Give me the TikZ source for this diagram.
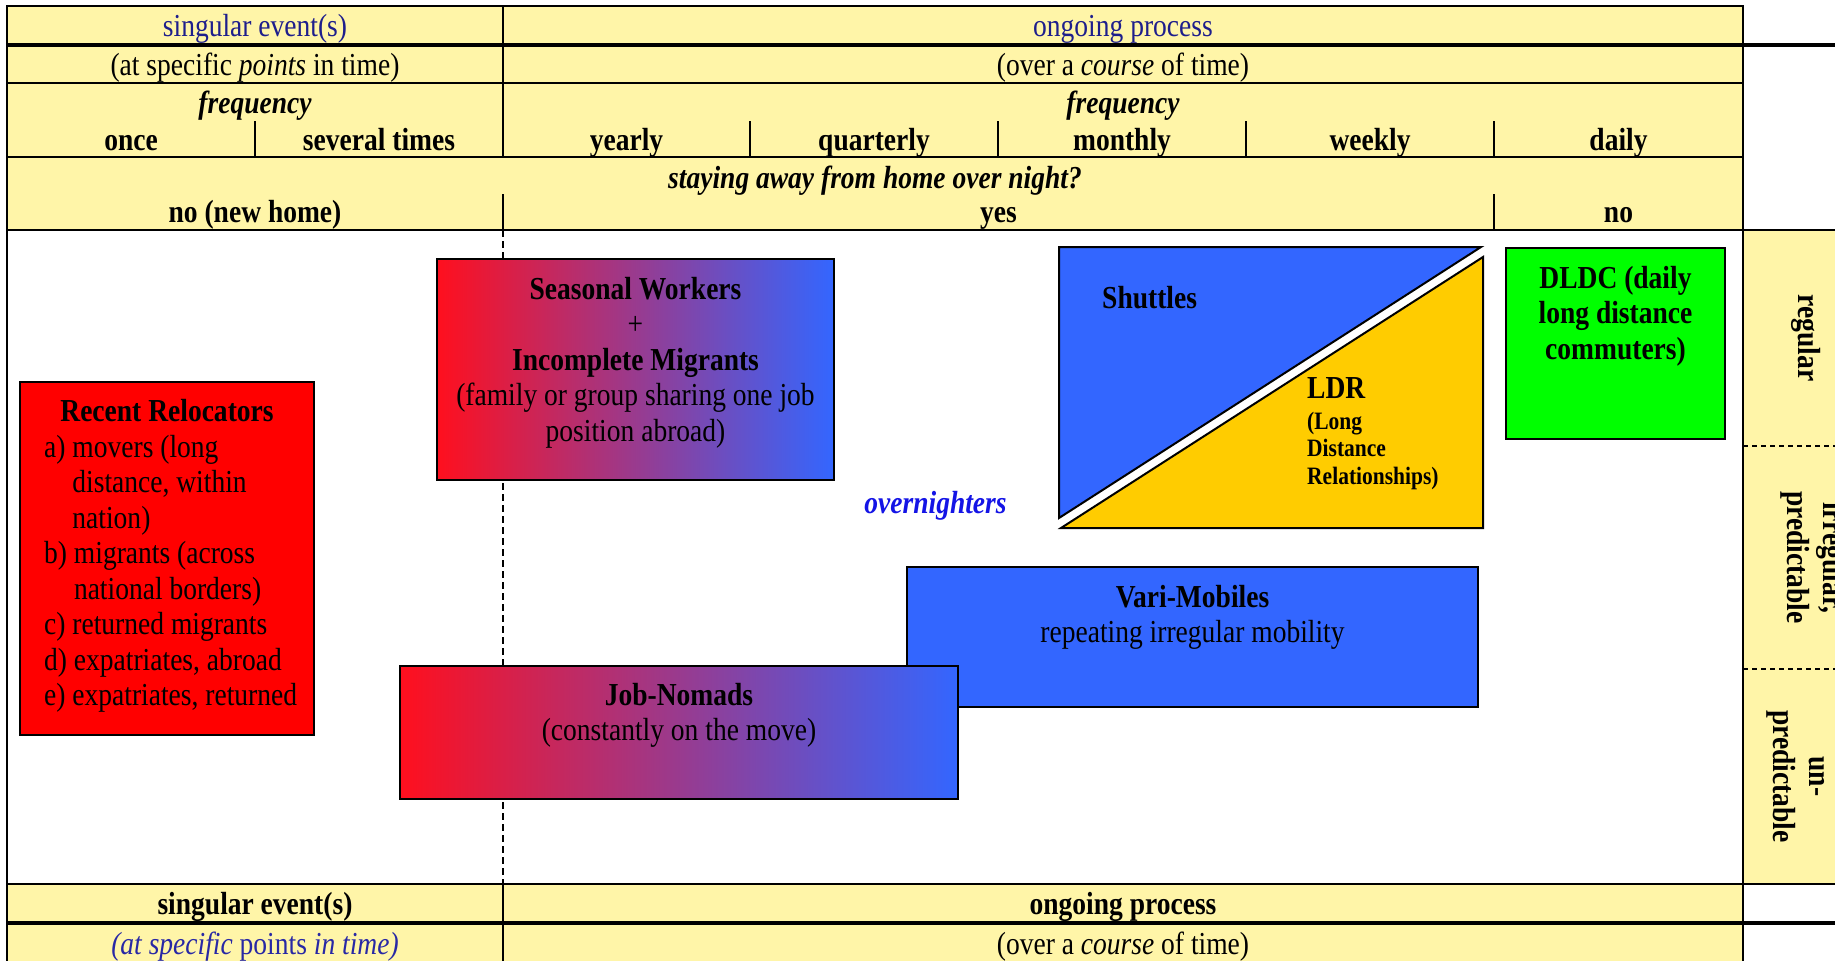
\documentclass[tikz,border=0pt]{standalone}
\usepackage{fontspec}
\setmainfont{Liberation Serif}[FakeStretch=0.86]
\usetikzlibrary{calc}
\definecolor{hdr}{RGB}{255,245,168}
\definecolor{navy}{RGB}{30,30,140}
\definecolor{botblue}{RGB}{40,40,165}
\definecolor{boxblue}{RGB}{51,102,255}
\definecolor{gradred}{RGB}{255,15,30}
\definecolor{gradmid}{RGB}{200,75,190}
\definecolor{ldryellow}{RGB}{255,204,0}
\definecolor{dldcgreen}{RGB}{0,255,0}
\definecolor{relred}{RGB}{255,0,0}
\definecolor{overblue}{RGB}{20,20,230}
\newcommand{\tp}{\rule{0pt}{30pt}}
\newcommand{\tps}{\rule{0pt}{24pt}}
\begin{document}
\begin{tikzpicture}[x=1pt,y=-1pt,
  tline/.style={line width=2pt},
  tkline/.style={line width=4.5pt},
  box/.style={draw=black, line width=2pt, inner sep=0pt, outer sep=0pt, anchor=north west},
  txt/.style={inner sep=0pt, font=\fontsize{32}{35.5}\selectfont},
  txtb/.style={inner sep=0pt, font=\fontsize{32}{35.5}\selectfont\bfseries},
  txtbi/.style={inner sep=0pt, font=\fontsize{32}{35.5}\selectfont\bfseries\itshape},
  txts/.style={inner sep=0pt, font=\fontsize{25}{27.5}\selectfont\bfseries},
  grad/.style={left color=gradred, middle color=gradmid, right color=boxblue}
]
\useasboundingbox (0,0) rectangle (1835,961);
\clip (0,0) rectangle (1835,961);
% backgrounds
\fill[hdr] (7,6) rectangle (1743,230);
\fill[hdr] (1743,230) rectangle (1900,884);
\fill[hdr] (7,884) rectangle (1743,961);
% dashed separator behind boxes
\draw[line width=2pt, dash pattern=on 7pt off 4pt] (503,230) -- (503,884);
% right column dashed separators
\draw[line width=1.5pt, dash pattern=on 5pt off 4pt] (1743,446) -- (1835,446);
\draw[line width=1.5pt, dash pattern=on 5pt off 4pt] (1743,669) -- (1835,669);

% boxes
\node[box, fill=relred, minimum width=294pt, minimum height=353pt] (rr) at (20,382) {};
\node[box, grad, minimum width=397pt, minimum height=221pt] (sw) at (437,259) {};
\node[box, fill=dldcgreen, minimum width=219pt, minimum height=191pt] (dldc) at (1506,248) {};
\node[box, fill=boxblue, minimum width=571pt, minimum height=140pt] (vm) at (907,567) {};
\node[box, grad, minimum width=558pt, minimum height=133pt] (jn) at (400,666) {};

% shuttles / LDR triangles
\coordinate (sa) at (1059,247);
\coordinate (sb) at (1481,247);
\coordinate (sc) at (1059,518);
\coordinate (la) at (1061,528);
\coordinate (lb) at (1483,257);
\coordinate (lc) at (1483,528);
\filldraw[fill=boxblue, draw=black, line width=2pt, line join=miter] (sa) -- (sb) -- (sc) -- cycle;
\filldraw[fill=ldryellow, draw=black, line width=2pt, line join=miter] (la) -- (lb) -- (lc) -- cycle;

% grid lines
\draw[tline] (7,6) -- (1743,6);
\draw[tkline] (7,45) -- (1835,45);
\draw[tline] (7,83) -- (1743,83);
\draw[tline] (7,157) -- (1743,157);
\draw[tline] (7,230) -- (1835,230);
\draw[line width=2.5pt] (7,884) -- (1835,884);
\draw[tkline] (7,923) -- (1835,923);
\draw[tline] (7,5) -- (7,961);
\draw[tline] (1743,5) -- (1743,961);
\draw[tline] (503,6) -- (503,157);
\draw[tline] (503,194) -- (503,230);
\draw[tline] (503,884) -- (503,961);
\foreach \x in {255,750,998,1246,1494} \draw[tline] (\x,121) -- (\x,157);
\draw[tline] (1494,194) -- (1494,230);

% header texts
\node[txt, text=navy, anchor=base] (h1a) at (255,36) {singular event(s)};
\node[txt, text=navy, anchor=base] (h1b) at (1123,36) {ongoing process};
\node[txt, anchor=base] (h2a) at (255,75) {(at specific \textit{points} in time)};
\node[txt, anchor=base] (h2b) at (1123,75) {(over a \textit{course} of time)};
\node[txtbi, anchor=base] (f1) at (255,113) {frequency};
\node[txtbi, anchor=base] (f2) at (1123,113) {frequency};
\node[txtb, anchor=base] (once) at (131,150) {once};
\node[txtb, anchor=base] (sev) at (379,150) {several times};
\node[txtb, anchor=base] (yr) at (626.5,150) {yearly};
\node[txtb, anchor=base] (qt) at (874,150) {quarterly};
\node[txtb, anchor=base] (mo) at (1122,150) {monthly};
\node[txtb, anchor=base] (wk) at (1370,150) {weekly};
\node[txtb, anchor=base] (dy) at (1618.5,150) {daily};
\node[txtbi, anchor=base] (stay) at (875,188) {staying away from home over night?};
\node[txtb, anchor=base] (nonew) at (255,222) {no (new home)};
\node[txtb, anchor=base] (yes) at (998.5,222) {yes};
\node[txtb, anchor=base] (no) at (1618.5,222) {no};

% bottom texts
\node[txtb, anchor=base] (b1a) at (255,914) {singular event(s)};
\node[txtb, anchor=base] (b1b) at (1123,914) {ongoing process};
\node[txt, text=botblue, anchor=base] (b2a) at (255,954) {\textit{(at specific} points \textit{in time)}};
\node[txt, anchor=base] (b2b) at (1123,954) {(over a \textit{course} of time)};

% right column
\node[txtb, rotate=-90] (reg) at (1806,338) {regular};
\node[txtb, rotate=-90, align=center] (irp) at (1813,557.5) {irregular,\\predictable};
\node[txtb, rotate=-90, align=center] (iru) at (1817,776.5) {irregular,\\un-\\predictable};

% box texts
\node[txtb, anchor=north] (rrt) at ($(rr.north)+(0,9)$) {\tp Recent Relocators};
\node[txt, anchor=north west, align=left] (rrl) at (44,427) {\tp a) movers (long\\\hphantom{a) }distance, within\\\hphantom{a) }nation)\\b) migrants (across\\\hphantom{b) }national borders)\\c) returned migrants\\d) expatriates, abroad\\e) expatriates, returned};
\node[txt, anchor=north, align=center] (swt) at ($(sw.north)+(0,10)$) {\tp\textbf{Seasonal Workers}\\+\\\textbf{Incomplete Migrants}\\(family or group sharing one job\\position abroad)};
\node[txtb, anchor=north, align=center] (dldct) at ($(dldc.north)+(0,10)$) {\tp DLDC (daily\\long distance\\commuters)};
\node[txt, anchor=north, align=center] (vmt) at ($(vm.north)+(0,10)$) {\tp\textbf{Vari-Mobiles}\\repeating irregular mobility};
\node[txt, anchor=north, align=center] (jnt) at ($(jn.north)+(0,9)$) {\tp\textbf{Job-Nomads}\\(constantly on the move)};
\node[txtb, anchor=base west] (sht) at (1102,308) {Shuttles};
\node[txtb, anchor=base west] (ldr) at (1307,398) {LDR};
\node[txts, anchor=north west, align=left] (ldrt) at (1307,405) {\tps(Long\\Distance\\Relationships)};
\node[txtbi, text=overblue, anchor=base] (ov) at (935.5,513) {overnighters};
\end{tikzpicture}
\end{document}
